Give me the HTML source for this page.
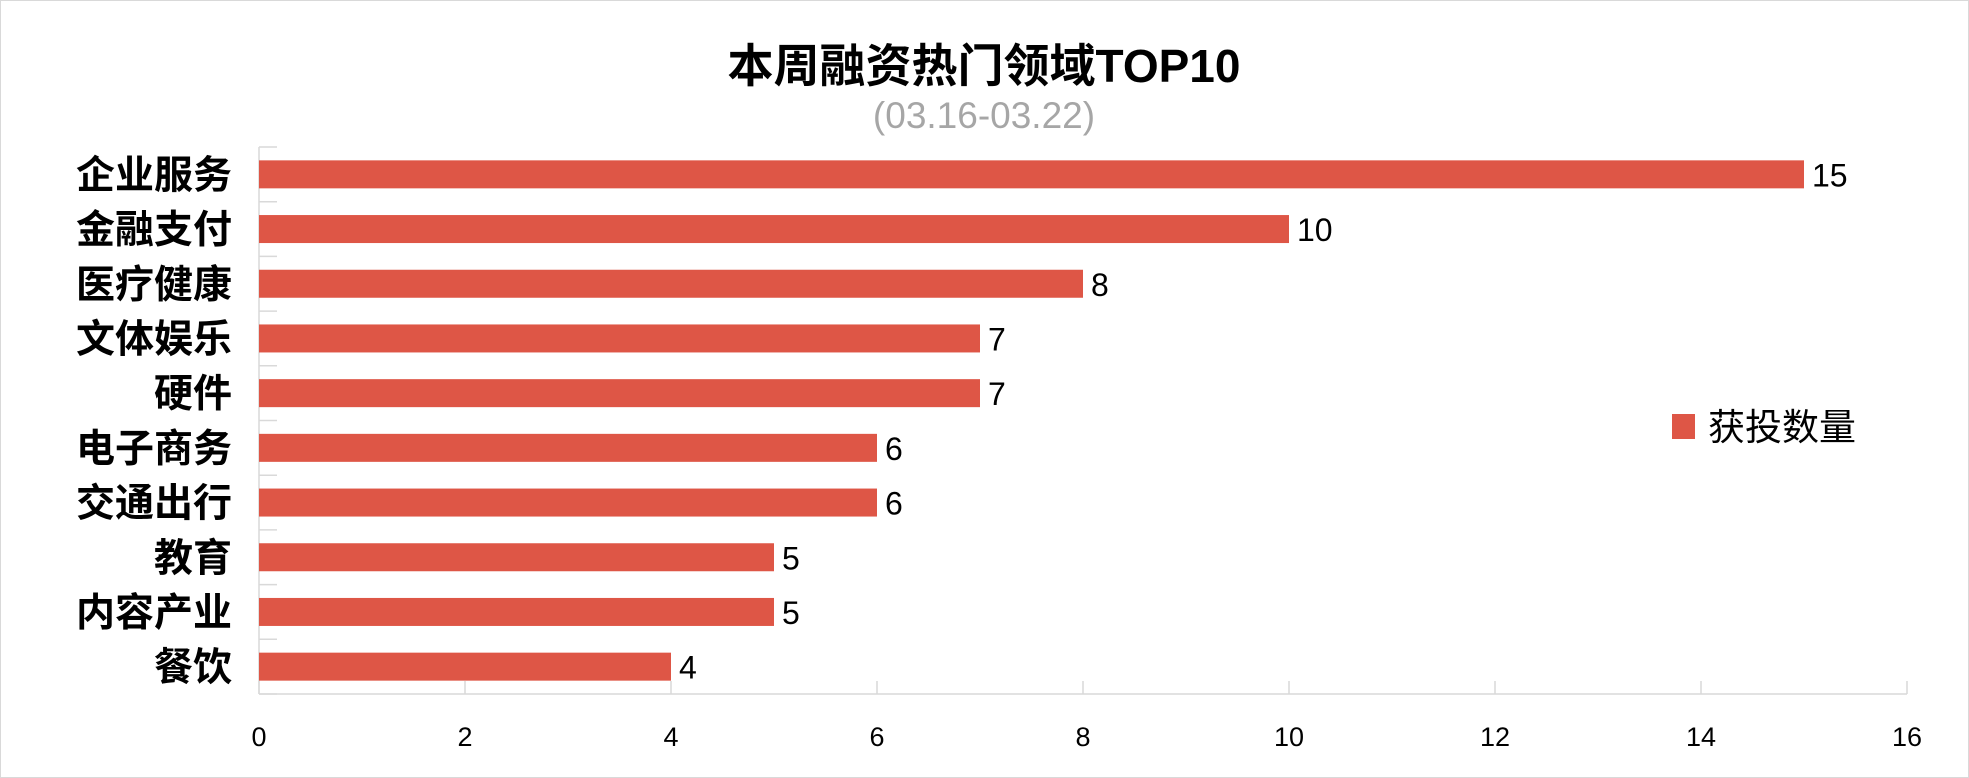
<!DOCTYPE html>
<html><head><meta charset="utf-8"><style>
body{margin:0;background:#fff}
svg{display:block;font-family:"Liberation Sans","Noto Sans CJK SC",sans-serif}
</style></head><body>
<svg id="chart" width="1969" height="778">
<rect x="0.5" y="0.5" width="1968" height="777" fill="#fff" stroke="#d9d9d9"/>
<text x="984" y="82" text-anchor="middle" font-size="46" font-weight="bold" fill="#000">本周融资热门领域TOP10</text>
<text x="984" y="128" text-anchor="middle" font-size="37" fill="#a6a6a6">(03.16-03.22)</text>
<g id="plot"></g>
<rect x="1672" y="414" width="23" height="25" fill="#DE5646"/>
<text x="1708" y="440" font-size="37" fill="#000">获投数量</text>
</svg>
<script>
const categories=["企业服务","金融支付","医疗健康","文体娱乐","硬件","电子商务","交通出行","教育","内容产业","餐饮"];
const values=[15,10,8,7,7,6,6,5,5,4];
const ticks=[0,2,4,6,8,10,12,14,16];
const x0=259,unit=103,plotTop=147,plotBottom=694;
const rowH=(plotBottom-plotTop)/categories.length;
const xs=v=>x0+v*unit;
const ns="http://www.w3.org/2000/svg";
const g=document.getElementById('plot');
function mk(t,a){const e=document.createElementNS(ns,t);for(const k in a)e.setAttribute(k,a[k]);g.appendChild(e);return e;}
let ax=mk('line',{x1:x0,y1:plotBottom,x2:xs(16),y2:plotBottom,stroke:'#d9d9d9','stroke-width':1.5});


let ay=mk('line',{x1:x0,y1:plotTop,x2:x0,y2:plotBottom,stroke:'#d9d9d9','stroke-width':1.5});


ticks.forEach(t=>{
 let l=mk('line',{x1:xs(t),y1:plotBottom-13,x2:xs(t),y2:plotBottom,stroke:'#d9d9d9','stroke-width':1.5});
 
 
 let tx=mk('text',{x:xs(t),y:746,'text-anchor':'middle','font-size':27,fill:'#000'});
 tx.textContent=t;
 
 
});
for(let i=0;i<=categories.length;i++){
 let l=mk('line',{x1:x0,y1:plotTop+i*rowH,x2:x0+18,y2:plotTop+i*rowH,stroke:'#d9d9d9','stroke-width':1.5});
 
 
}
categories.forEach((c,i)=>{
 const cy=plotTop+(i+0.5)*rowH;
 let r=mk('rect',{x:x0,y:cy-14,width:xs(values[i])-x0,height:28,fill:'#DE5646'});
 
 
 let v=mk('text',{x:xs(values[i])+8,y:cy+12,'font-size':32,fill:'#000'});
 v.textContent=values[i];
 
 
 let lb=mk('text',{x:232,y:cy+14,'text-anchor':'end','font-size':39,'font-weight':'bold',fill:'#000'});
 lb.textContent=c;
 
 
});
</script>
</body></html>
